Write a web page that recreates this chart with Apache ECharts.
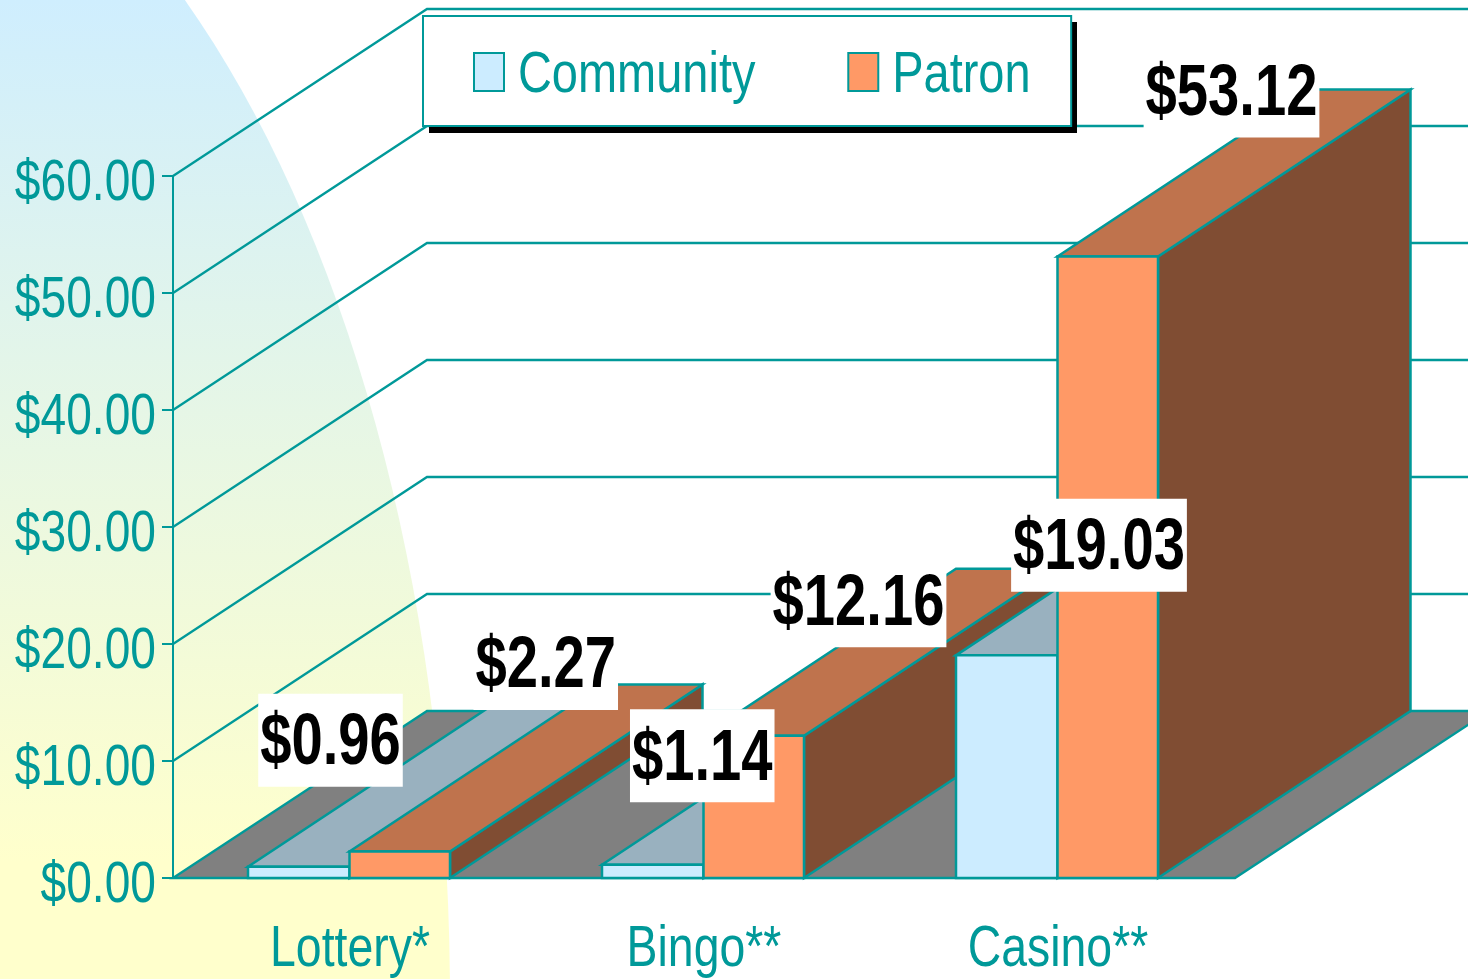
<!DOCTYPE html>
<html>
<head>
<meta charset="utf-8">
<style>html,body{margin:0;padding:0;background:#fff}#c{width:1468px;height:979px}</style>
<script src="https://cdn.jsdelivr.net/npm/echarts@6/dist/echarts.min.js"></script>
</head>
<body>
<div id="c"></div>
<script>
const categories = ['Lottery*', 'Bingo**', 'Casino**'];
const community = [0.96, 1.14, 19.03];
const patron = [2.27, 12.16, 53.12];
const tickValues = [0, 10, 20, 30, 40, 50, 60];
const seriesNames = ['Community', 'Patron'];

const TEAL = '#009999';
const FONT = '"Liberation Sans",Arial,sans-serif';
const BOLD_FONT = 'bold 72px ' + FONT;
const NARROW_SCALE = 0.81, CATEGORY_SCALE = 0.80, BOLD_SCALE = 0.78;
const DEPTH_X = 254, DEPTH_Y = 167, BAR_DEPTH_X = 252.5;
const COMMUNITY_W = 101.5, PATRON_W = 100.5, CENTER_NUDGE = -0.5;
const LABEL_BOX_H = 93, LABEL_BOX_PAD = 4, LABEL_TEXT_DROP = 4;
const communityLabelShift = [[31.75, -126.5], [49.5, -109], [92.25, -110]];
const patronLabelShift = [[146, -188], [104.75, -135], [123.75, -165.5]];

const measureCtx = document.createElement('canvas').getContext('2d');
measureCtx.font = BOLD_FONT;

function wallRender(params, api) {
  const v = api.value(1);
  const halfCat = api.size([1, 0])[0] / 2;
  const l = api.coord([0, v]); l[0] -= halfCat;
  const r = api.coord([2, v]); r[0] += halfCat;
  const back = [l[0] + DEPTH_X, l[1] - DEPTH_Y];
  const backR = [r[0] + DEPTH_X, r[1] - DEPTH_Y];
  const children = [];
  if (v === 0) {
    children.push({
      type: 'polygon', z2: 1,
      shape: { points: [l, back, backR, r] },
      style: { fill: '#808080', stroke: TEAL, lineWidth: 2.3 }
    });
  } else {
    children.push({
      type: 'polyline', z2: 1,
      shape: { points: [l, back, backR] },
      style: { fill: 'none', stroke: TEAL, lineWidth: 2.3 }
    });
  }
  return { type: 'group', children };
}

function barRender(side, barW, shifts, front, top, flank) {
  return function (params, api) {
    const idx = params.dataIndex;
    const cat = api.value(0), v = api.value(1);
    const c = api.coord([cat, v]);
    const base = api.coord([cat, 0]);
    const mid = c[0] + CENTER_NUDGE;
    const x0 = side < 0 ? mid - barW : mid;
    const x1 = x0 + barW;
    const y = c[1], yb = base[1];
    const dx = BAR_DEPTH_X;
    const edge = { stroke: TEAL, lineWidth: 2.5, lineJoin: 'miter' };
    const z = 10 + idx * 10 + (side < 0 ? 0 : 5);
    const shift = shifts[idx];
    const str = '$' + v.toFixed(2);
    const lx = (x0 + x1) / 2 + shift[0], ly = y + shift[1];
    const boxW = measureCtx.measureText(str).width * BOLD_SCALE + LABEL_BOX_PAD;
    return {
      type: 'group',
      children: [
        { type: 'polygon', z2: z, shape: { points: [[x1, yb], [x1, y], [x1 + dx, y - DEPTH_Y], [x1 + dx, yb - DEPTH_Y]] }, style: Object.assign({ fill: flank }, edge) },
        { type: 'polygon', z2: z + 1, shape: { points: [[x0, y], [x1, y], [x1 + dx, y - DEPTH_Y], [x0 + dx, y - DEPTH_Y]] }, style: Object.assign({ fill: top }, edge) },
        { type: 'rect', z2: z + 2, shape: { x: x0, y: y, width: barW, height: yb - y }, style: Object.assign({ fill: front }, edge) },
        { type: 'rect', z2: 999, shape: { x: lx - boxW / 2, y: ly - LABEL_BOX_H / 2, width: boxW, height: LABEL_BOX_H }, style: { fill: '#fff' } },
        {
          type: 'text', z2: 1000,
          x: lx, y: ly + LABEL_TEXT_DROP,
          scaleX: BOLD_SCALE,
          style: { text: str, font: BOLD_FONT, fill: '#000', align: 'center', verticalAlign: 'middle' }
        }
      ]
    };
  };
}

const chart = echarts.init(document.getElementById('c'), null, { renderer: 'canvas' });
chart.setOption({
  animation: false,
  backgroundColor: '#fff',
  graphic: [{
    type: 'ellipse', z: -10, silent: true,
    shape: { cx: -213, cy: 1000, rx: 663, ry: 1250 },
    style: {
      fill: {
        type: 'linear', global: true, x: 0, y: 0, x2: 0, y2: 979,
        colorStops: [{ offset: 0, color: '#CFEEFE' }, { offset: 0.88, color: '#FFFFCC' }, { offset: 1, color: '#FFFFCC' }]
      }
    }
  }, {
    type: 'rect', z: 3, silent: true,
    shape: { x: 429, y: 22, width: 648, height: 111 },
    style: { fill: '#000' }
  }],
  grid: { left: 173, top: 176, width: 1062, height: 702, containLabel: false, outerBoundsMode: 'none' },
  legend: {
    left: 423, top: 16,
    orient: 'horizontal',
    padding: [27, 6, 25, 50],
    backgroundColor: '#fff',
    borderColor: TEAL, borderWidth: 2,
    itemWidth: 30, itemHeight: 38, itemGap: 34,
    icon: 'rect',
    itemStyle: { borderColor: TEAL, borderWidth: 2 },
    textStyle: { color: TEAL, fontFamily: FONT, fontSize: 58, padding: [0, 0, 0, 11] },
    data: seriesNames
  },
  xAxis: {
    type: 'category', data: categories,
    axisLine: { lineStyle: { color: TEAL, width: 2 } },
    axisTick: { show: false },
    axisLabel: { color: TEAL, fontFamily: FONT, fontSize: 58, margin: 43 }
  },
  yAxis: {
    type: 'value', min: 0, max: 60, interval: 10,
    axisLine: { show: true, lineStyle: { color: TEAL, width: 2 } },
    axisTick: { show: true, length: 11, lineStyle: { color: TEAL, width: 2 } },
    splitLine: { show: false },
    axisLabel: { color: TEAL, fontFamily: FONT, fontSize: 57, margin: 17, formatter: v => '$' + v.toFixed(2) }
  },
  series: [
    {
      name: 'walls', type: 'custom', silent: true, z: 2,
      data: tickValues.map(v => [0, v]),
      encode: { x: 0, y: 1 },
      renderItem: wallRender
    },
    {
      name: seriesNames[0], type: 'custom', silent: true, z: 2,
      itemStyle: { color: '#CCECFF' },
      data: community.map((v, i) => [i, v]),
      encode: { x: 0, y: 1 },
      renderItem: barRender(-1, COMMUNITY_W, communityLabelShift, '#CCECFF', '#99B1BF', '#668FA0')
    },
    {
      name: seriesNames[1], type: 'custom', silent: true, z: 2,
      itemStyle: { color: '#FF9966' },
      data: patron.map((v, i) => [i, v]),
      encode: { x: 0, y: 1 },
      renderItem: barRender(1, PATRON_W, patronLabelShift, '#FF9966', '#BF734D', '#804D33')
    }
  ]
});

// The reference uses a narrow face; none is installed, so the real text nodes are condensed horizontally.
const zr = chart.getZr();
zr.storage.getRoots().forEach(function (root) {
  root.traverse(function (el) {
    if (el.type === 'text' && el.scaleX === 1) {
      const str = (el.style && el.style.text) || '';
      el.originX = (el.style && el.style.x) || 0;
      el.scaleX = categories.indexOf(str) >= 0 ? CATEGORY_SCALE : NARROW_SCALE;
      if (str.charAt(0) === '$') { el.y += 8; }
      if (seriesNames.indexOf(str) >= 0) { el.y += 4; }
      el.markRedraw();
    }
  });
});
zr.refresh();
</script>
</body>
</html>
